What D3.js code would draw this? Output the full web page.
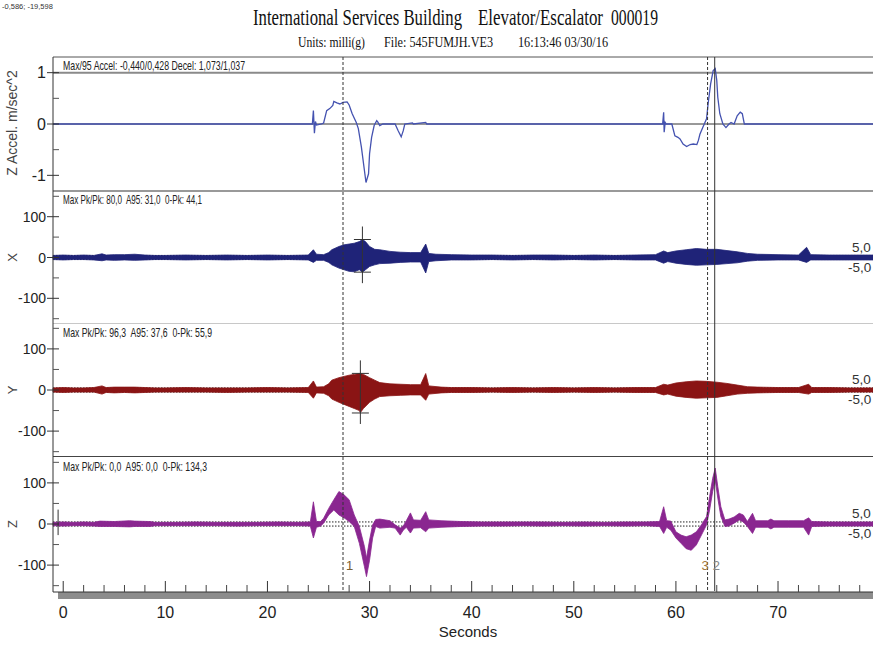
<!DOCTYPE html>
<html><head><meta charset="utf-8">
<script src="https://cdn.jsdelivr.net/npm/d3@7"></script>
<style>body{margin:0;background:#fff} svg{display:block} text{white-space:pre}</style>
</head><body><svg id="c" width="873" height="645"></svg>
<script>
// ---------- DATA ----------
const xMajorTicks = [0,10,20,30,40,50,60,70];
const xMinorTicks = [2,4,6,8,12,14,16,18,22,24,26,28,32,34,36,38,42,44,46,48,52,54,56,58,62,64,66,68,72,74,76,78];
const accTicks = [-1,0,1];
const accMinor = [-0.5,0.5];
const mgTicks = [-100,0,100];
const mgMinor = [-150,-50,50,150];

// Z acceleration (m/sec^2): [time s, value]
const zAccel = [[-1,0],[24.4,0],[24.5,0.26],[24.6,-0.18],[24.7,0.05],[24.8,-0.02],[25.3,0],[25.5,0.02],[25.8,0.26],[26.1,0.30],[26.4,0.36],[26.5,0.44],[26.8,0.41],[27.1,0.39],[27.4,0.42],[27.8,0.43],[28.0,0.37],[28.3,0.2],[28.7,0.03],[28.9,-0.09],[29.2,-0.45],[29.5,-0.91],[29.65,-1.14],[29.9,-0.97],[30.0,-0.58],[30.2,-0.26],[30.45,-0.03],[30.7,0.065],[30.8,0.04],[31.0,-0.03],[31.3,0],[32.5,0],[32.8,-0.13],[33.1,-0.25],[33.3,-0.13],[33.45,0],[34.2,0.02],[34.3,0],[35.5,0.03],[35.6,0],[58.7,0],[58.8,0.23],[58.85,-0.16],[58.95,0.03],[59.05,0],[59.6,0],[59.9,-0.23],[60.2,-0.26],[60.4,-0.29],[60.7,-0.39],[61.05,-0.44],[61.4,-0.40],[61.7,-0.39],[62.05,-0.40],[62.2,-0.32],[62.35,-0.2],[62.65,-0.06],[63.0,0.1],[63.15,0.39],[63.4,0.78],[63.65,1.04],[63.85,1.08],[64.0,0.85],[64.1,0.52],[64.3,0.2],[64.6,0],[64.9,-0.07],[65.2,0],[65.4,0.03],[65.7,0],[66.0,0.16],[66.3,0.23],[66.5,0.2],[66.7,0],[79.5,0]];

// X vibration envelope (milli g): [time, min, max]
const xEnv = [[-1,-5,5],[0,-6,6],[1,-5,5],[2,-5,6],[3,-6,5],[3.8,-8,9],[4.2,-6,6],[5,-7,7],[6,-6,7],[7,-7,8],[8,-6,6],[9,-5,5],[10,-5,5],[12,-6,6],[14,-5,5],[16,-6,6],[18,-5,5],[20,-6,6],[22,-5,5],[24,-6,6],[24.5,-12,19],[24.8,-7,8],[25.5,-7,7],[26,-12,12],[26.3,-18,19],[27,-26,27],[27.5,-30,31],[28,-34,33],[28.5,-35,35],[29,-30,39],[29.3,-36,44],[29.6,-30,39],[30,-22,27],[30.5,-18,20],[31,-15,19],[32,-14,15],[33,-12,13],[34,-11,12],[35,-11,12],[35.5,-38,33],[35.8,-10,10],[36.5,-8,8],[38,-6,7],[40,-6,6],[42,-5,6],[44,-6,5],[46,-5,6],[48,-6,6],[50,-5,5],[52,-6,6],[54,-5,5],[56,-6,6],[58,-6,7],[58.8,-14,16],[59.2,-10,12],[60,-14,16],[61,-17,19],[62,-19,22],[63,-18,20],[64,-17,20],[65,-15,17],[66,-13,14],[67,-9,10],[68,-7,8],[70,-6,7],[72,-6,6],[72.8,-12,25],[73.2,-6,7],[75,-6,6],[77,-6,6],[79.5,-6,6]];

// Y vibration envelope (milli g)
const yEnv = [[-1,-5,5],[0,-6,6],[1,-5,5],[2,-5,5],[3,-5,6],[3.8,-10,10],[4.2,-6,6],[5,-7,7],[6,-6,7],[7,-7,7],[8,-6,6],[9,-5,5],[10,-5,5],[12,-5,6],[14,-5,5],[16,-6,5],[18,-5,5],[20,-5,6],[22,-5,5],[24,-6,6],[24.5,-20,22],[24.8,-7,7],[25.5,-8,8],[26,-14,15],[26.3,-22,24],[27,-30,30],[27.5,-35,33],[28,-40,36],[28.5,-45,38],[29,-50,40],[29.1,-55,40],[29.4,-45,38],[30,-30,30],[30.5,-22,24],[31,-16,18],[32,-14,15],[33,-13,14],[34,-12,13],[35,-12,13],[35.5,-25,40],[35.8,-10,10],[37,-7,7],[38,-6,6],[40,-6,6],[42,-5,5],[44,-6,6],[46,-5,5],[48,-6,6],[50,-5,5],[52,-6,6],[54,-5,5],[56,-6,6],[58,-6,6],[58.8,-12,14],[59.2,-10,12],[60,-15,17],[61,-18,20],[62,-20,22],[63,-19,21],[64,-18,19],[65,-14,16],[66,-10,12],[67,-8,8],[68,-7,7],[70,-6,6],[72,-6,6],[73,-10,14],[73.3,-6,6],[75,-6,6],[77,-5,5],[79.5,-5,5]];

// Z vibration envelope (milli g)
const zEnv = [[-1,-4,4],[0,-5,5],[1,-4,4],[2,-4,5],[3,-5,4],[3.6,-6,7],[5,-6,6],[6.5,-7,8],[7,-6,7],[8.5,-6,6],[9,-4,4],[11,-4,4],[13,-4,5],[15,-4,4],[17,-5,4],[19,-4,4],[21,-4,5],[23,-4,4],[24.2,-5,5],[24.5,-34,54],[24.8,-8,6],[25.2,-5,6],[25.5,2,14],[26,22,38],[26.5,34,59],[27,22,79],[27.5,15,71],[28,6,59],[28.5,-6,22],[29,-47,-6],[29.5,-104,-55],[29.7,-128,-83],[30,-88,-39],[30.3,-34,-2],[30.6,-6,11],[31,-10,12],[32,-8,8],[32.5,-10,-2],[33,-27,-10],[33.3,-15,-5],[33.6,-8,8],[34,-22,27],[34.3,-10,10],[35,-9,9],[35.5,-19,30],[35.8,-10,10],[37,-8,8],[39,-6,6],[41,-5,5],[43,-5,5],[45,-4,5],[47,-5,5],[49,-4,4],[51,-5,5],[53,-4,4],[55,-5,5],[57,-4,5],[58.4,-6,6],[58.8,-23,42],[59.1,-8,8],[59.5,-15,7],[60,-34,-19],[60.5,-47,-27],[61,-60,-31],[61.5,-64,-27],[62,-51,-19],[62.5,-27,-2],[63,-2,18],[63.3,34,67],[63.6,79,111],[63.85,107,136],[64.1,63,91],[64.4,18,42],[64.8,-6,10],[65.2,-5,12],[65.7,2,17],[66.2,10,26],[66.6,5,22],[67,-6,6],[67.5,-23,26],[67.8,-8,8],[69,-8,8],[69.3,-12,12],[69.6,-8,8],[71,-8,8],[72.5,-8,8],[73,-27,15],[73.3,-6,6],[75,-5,5],[77,-5,5],[79.5,-5,5]];

// peak crosshairs: [time, min, max]
const xPeak = [29.3, -35.9, 44.1];
const yPeak = [29.1, -55.9, 40.4];
// event markers: [time, label, dashed]
const markers = [[27.4,"1",true],[63.1,"3",true],[63.8,"2",false]];

const panelTitles = ["Z Accel. m/sec^2","X","Y","Z"];
const panelStats = ["Max/95 Accel: -0,440/0,428 Decel: 1,073/1,037",
  "Max Pk/Pk: 80,0  A95: 31,0  0-Pk: 44,1",
  "Max Pk/Pk: 96,3  A95: 37,6  0-Pk: 55,9",
  "Max Pk/Pk: 0,0  A95: 0,0  0-Pk: 134,3"];
const statsWidths = [182,139,149,144];
const bandLabels = ["5,0","-5,0"];

// ---------- DRAW ----------
const svg = d3.select("#c");
const NARROW = "'Liberation Sans Narrow','Arial Narrow','Liberation Sans',Arial,sans-serif";
const SERIF = "'Liberation Serif','Times New Roman',serif";
const L = 53, R = 873;
const x = d3.scaleLinear().domain([-1, 79.3]).range([L, R]);

const panels = [
  {top:57, bot:191, dom:[-1.305,1.305]},
  {top:191, bot:324, dom:[-163,163]},
  {top:323, bot:457, dom:[-163,163]},
  {top:457, bot:591, dom:[-163,163]}
];
panels.forEach(p => p.y = d3.scaleLinear().domain(p.dom).range([p.bot, p.top]));

// top-left coordinate readout
svg.append("text").attr("x",2).attr("y",9).attr("font-family","'Liberation Sans',Arial").attr("font-size",7.5).attr("fill","#333").text("-0,586; -19,598");

// title (tall, condensed serif)
function tt(txt, x0, y0, fs, sy, len){
  svg.append("text").attr("transform",`translate(${x0},${y0}) scale(1,${sy})`).attr("font-family",SERIF).attr("font-size",fs)
    .attr("fill","#111").attr("textLength",len).attr("lengthAdjust","spacingAndGlyphs").text(txt);
}
tt("International Services Building",253,25,16.5,1.42,209);
tt("Elevator/Escalator",478,25,16.5,1.42,125);
tt("000019",611,25,16.5,1.42,47);
tt("Units: milli(g)",298,47,11.5,1.35,67);
tt("File: 545FUMJH.VE3",384,47,11.5,1.35,109);
tt("16:13:46 03/30/16",518,47,11.5,1.35,90);

// panel separators
svg.append("line").attr("x1",L).attr("x2",R).attr("y1",57).attr("y2",57).attr("stroke","#555").attr("stroke-width",1);
svg.append("line").attr("x1",L).attr("x2",R).attr("y1",panels[0].y(1)).attr("y2",panels[0].y(1)).attr("stroke","#8a8a8a").attr("stroke-width",2);
svg.append("line").attr("x1",L).attr("x2",R).attr("y1",191).attr("y2",191).attr("stroke","#999").attr("stroke-width",2);
svg.append("line").attr("x1",L).attr("x2",R).attr("y1",323.5).attr("y2",323.5).attr("stroke","#c8c8c8").attr("stroke-width",1);
svg.append("line").attr("x1",L).attr("x2",R).attr("y1",456.5).attr("y2",456.5).attr("stroke","#444").attr("stroke-width",1);

// zero line panel 1
svg.append("line").attr("x1",L).attr("x2",R).attr("y1",panels[0].y(0)).attr("y2",panels[0].y(0)).attr("stroke","#333").attr("stroke-width",1);

// dotted ±5 lines & right labels
[1,2,3].forEach(i => {
  const p = panels[i];
  [5,-5].forEach(v => {
    svg.append("line").attr("x1",L).attr("x2",R).attr("y1",p.y(v)).attr("y2",p.y(v))
      .attr("stroke","#222").attr("stroke-width",1).attr("stroke-dasharray","1.5,1.5");
  });
  svg.append("text").attr("x",852).attr("y",p.y(0)-6).attr("font-family",NARROW).attr("font-size",13.5).attr("fill","#333").text(bandLabels[0]);
  svg.append("text").attr("x",848).attr("y",p.y(0)+14).attr("font-family",NARROW).attr("font-size",13.5).attr("fill","#333").text(bandLabels[1]);
});

// traces
const envs = [xEnv, yEnv, zEnv];
const colors = ["#1f2378","#8a1414","#8a2690"];
envs.forEach((e,k) => {
  const p = panels[k+1];
  const area = d3.area().x(d=>x(d[0])).y0(d=>p.y(d[1])).y1(d=>p.y(d[2]));
  svg.append("path").attr("d",area(e)).attr("fill",colors[k]).attr("stroke",colors[k]).attr("stroke-width",0.8).attr("stroke-linejoin","round");
});
const accLine = d3.line().x(d=>x(d[0])).y(d=>panels[0].y(d[1]));
svg.append("path").attr("d",accLine(zAccel)).attr("fill","none").attr("stroke","#4452b0").attr("stroke-width",1.3);

// crosshairs
[[xPeak,panels[1]],[yPeak,panels[2]]].forEach(([pk,p]) => {
  const cx = x(pk[0]);
  const yhi = p.y(pk[2]), ylo = p.y(pk[1]);
  const g = svg.append("g").attr("stroke","#333").attr("stroke-width",1);
  g.append("line").attr("x1",cx).attr("x2",cx).attr("y1",yhi-13).attr("y2",ylo+11);
  g.append("line").attr("x1",cx-8.5).attr("x2",cx+8.5).attr("y1",yhi).attr("y2",yhi);
  g.append("line").attr("x1",cx-8.5).attr("x2",cx+8.5).attr("y1",ylo).attr("y2",ylo);
});
// start marker in Z panel
svg.append("line").attr("x1",x(-0.5)).attr("x2",x(-0.5)).attr("y1",panels[3].y(35)).attr("y2",panels[3].y(-27)).attr("stroke","#333").attr("stroke-width",1);

// event markers
const mColors = ["#7a6030","#a07840","#888"];
const mOff = [3,-6,-2];
markers.forEach((m,i) => {
  const mx = x(m[0]);
  svg.append("line").attr("x1",mx).attr("x2",mx).attr("y1",57).attr("y2",591)
    .attr("stroke","#333").attr("stroke-width",1).attr("stroke-dasharray",m[2]?"3,2":null);
  svg.append("text").attr("x",mx+mOff[i]).attr("y",570).attr("font-family",NARROW).attr("font-size",13)
    .attr("fill",mColors[i]).text(m[1]);
});

// left axis
svg.append("line").attr("x1",L).attr("x2",L).attr("y1",57).attr("y2",592).attr("stroke","#333").attr("stroke-width",1);
panels.forEach((p,i) => {
  const maj = i===0 ? accTicks : mgTicks;
  const mn = i===0 ? accMinor : mgMinor;
  const fs = i===0 ? 16 : 14;
  maj.forEach(v => {
    svg.append("line").attr("x1",47).attr("x2",59).attr("y1",p.y(v)).attr("y2",p.y(v)).attr("stroke","#333");
    svg.append("text").attr("x",46).attr("y",p.y(v)).attr("dy","0.36em").attr("text-anchor","end")
      .attr("font-family",NARROW).attr("font-size",fs).attr("fill","#222").text(String(v));
  });
  mn.forEach(v => {
    svg.append("line").attr("x1",53).attr("x2",59).attr("y1",p.y(v)).attr("y2",p.y(v)).attr("stroke","#555");
  });
  svg.append("text").attr("transform",`translate(17,${i===0?123:p.y(0)}) rotate(-90)`).attr("text-anchor","middle")
    .attr("font-family","'Liberation Sans',Arial,sans-serif").attr("font-size",i===0?14:13).attr("fill","#444").text(panelTitles[i]);
  svg.append("text").attr("x",63).attr("y",[70,204,337,471][i]).attr("font-family",NARROW).attr("font-size",13)
    .attr("fill","#222").attr("textLength",statsWidths[i]).attr("lengthAdjust","spacingAndGlyphs").text(panelStats[i]);
});

// bottom axis bar
svg.append("rect").attr("x",58).attr("y",592).attr("width",R-58).attr("height",7).attr("fill","#8c8c8c");
svg.append("line").attr("x1",53).attr("x2",R).attr("y1",592).attr("y2",592).attr("stroke","#333");
xMajorTicks.forEach(t => {
  svg.append("line").attr("x1",x(t)).attr("x2",x(t)).attr("y1",581).attr("y2",592).attr("stroke","#333");
  svg.append("text").attr("x",x(t)).attr("y",618).attr("text-anchor","middle").attr("font-family",NARROW)
    .attr("font-size",16).attr("fill","#222").text(t);
});
xMinorTicks.forEach(t => {
  svg.append("line").attr("x1",x(t)).attr("x2",x(t)).attr("y1",585).attr("y2",592).attr("stroke","#444");
});
svg.append("text").attr("x",468).attr("y",637).attr("text-anchor","middle").attr("font-family",NARROW)
  .attr("font-size",15).attr("fill","#222").text("Seconds");
</script></body></html>
